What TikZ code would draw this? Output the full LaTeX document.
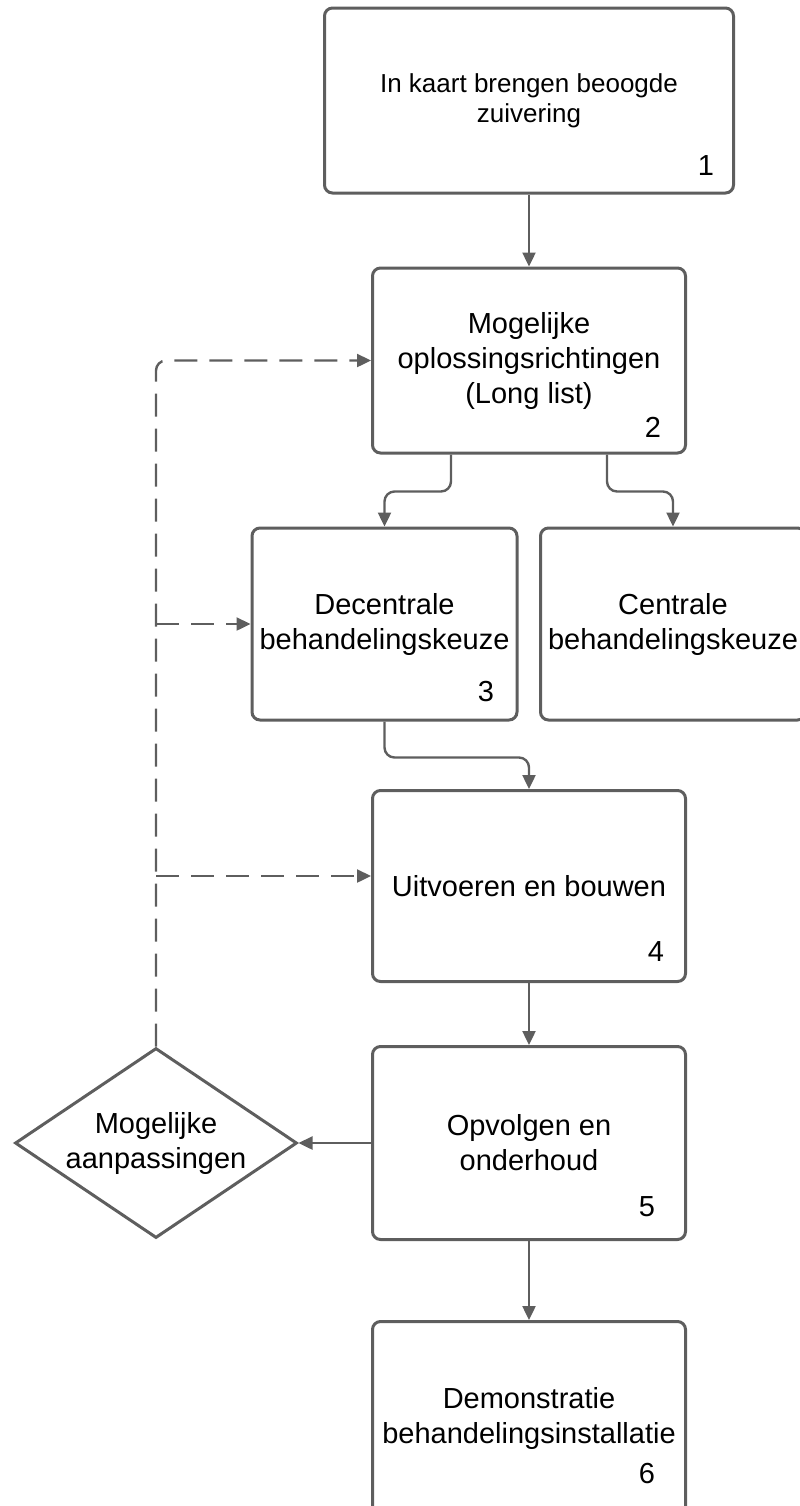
\documentclass[tikz,border=0pt]{standalone}
\usepackage{fontspec}
\setmainfont{Liberation Sans}
\usetikzlibrary{shapes.geometric,arrows.meta}
\definecolor{lijngrijs}{HTML}{5E5E5E}
\begin{document}
\begin{tikzpicture}[x=0.5pt,y=-0.5pt,
	blok/.style={draw=lijngrijs,line width=1.5pt,rounded corners=4pt,align=center,inner sep=0pt,font=\fontsize{14.5}{17.5}\selectfont},
	keuze/.style={draw=lijngrijs,line width=1.5pt,diamond,aspect=1.5,inner sep=0pt,align=center,font=\fontsize{14.5}{17.5}\selectfont},
	nr/.style={inner sep=0pt,font=\fontsize{14.5}{17.5}\selectfont},
	pijl/.style={draw=lijngrijs,line width=1.2pt,rounded corners=5pt,-{Triangle[length=7pt,width=6.5pt]}},
	stippel/.style={pijl,dash pattern=on 11.5pt off 6pt}]
	\useasboundingbox (0,0) rectangle (799,1506);
	% blokken
	\node[blok,minimum width=204.5pt,minimum height=92.5pt,font=\fontsize{13}{15.2}\selectfont] (kaart) at (529,100.5) {In kaart brengen beoogde\\zuivering};
	\node[blok,minimum width=156.5pt,minimum height=92.5pt] (lijst) at (529,360.5) {Mogelijke\\oplossingsrichtingen\\(Long list)};
	\node[blok,minimum width=132.5pt,minimum height=96pt] (decentraal) at (384.5,624) {Decentrale\\behandelingskeuze};
	\node[blok,minimum width=132.5pt,minimum height=96pt] (centraal) at (673,624) {Centrale\\behandelingskeuze};
	\node[blok,minimum width=156.5pt,minimum height=95.5pt] (bouwen) at (529,886) {Uitvoeren en bouwen};
	\node[blok,minimum width=156.5pt,minimum height=96.5pt] (opvolgen) at (529,1143) {Opvolgen en\\onderhoud};
	\node[blok,minimum width=156.5pt,minimum height=96.5pt] (demo) at (529,1418) {Demonstratie\\behandelingsinstallatie};
	\node[keuze,minimum width=141pt,minimum height=95pt] (aanpassing) at (156,1143) {Mogelijke\\aanpassingen};
	% nummers
	\node[nr] (nr1) at (706,166) {1};
	\node[nr] (nr2) at (653,427) {2};
	\node[nr] (nr3) at (486,692) {3};
	\node[nr] (nr4) at (656,952) {4};
	\node[nr] (nr5) at (647,1207) {5};
	\node[nr] (nr6) at (647,1473) {6};
	% pijlen
	\draw[pijl] (kaart) -- (lijst);
	\draw[pijl] ([xshift=-39pt]lijst.south) -- ++(0,37) -| (decentraal.north);
	\draw[pijl] ([xshift=39pt]lijst.south) -- ++(0,37) -| (centraal.north);
	\draw[pijl] (decentraal.south) -- ++(0,36) -| (bouwen.north);
	\draw[pijl] (bouwen) -- (opvolgen);
	\draw[pijl] (opvolgen) -- (demo);
	\draw[pijl] (opvolgen.west) -- (aanpassing.east);
	% terugkoppeling
	\coordinate (tak) at ([yshift=5pt]bouwen.west);
	\draw[stippel] (aanpassing.north) |- (lijst.west);
	\draw[stippel] (aanpassing.north |- decentraal.west) -- (decentraal.west);
	\draw[stippel] (aanpassing.north |- tak) -- (tak);
\end{tikzpicture}
\end{document}
